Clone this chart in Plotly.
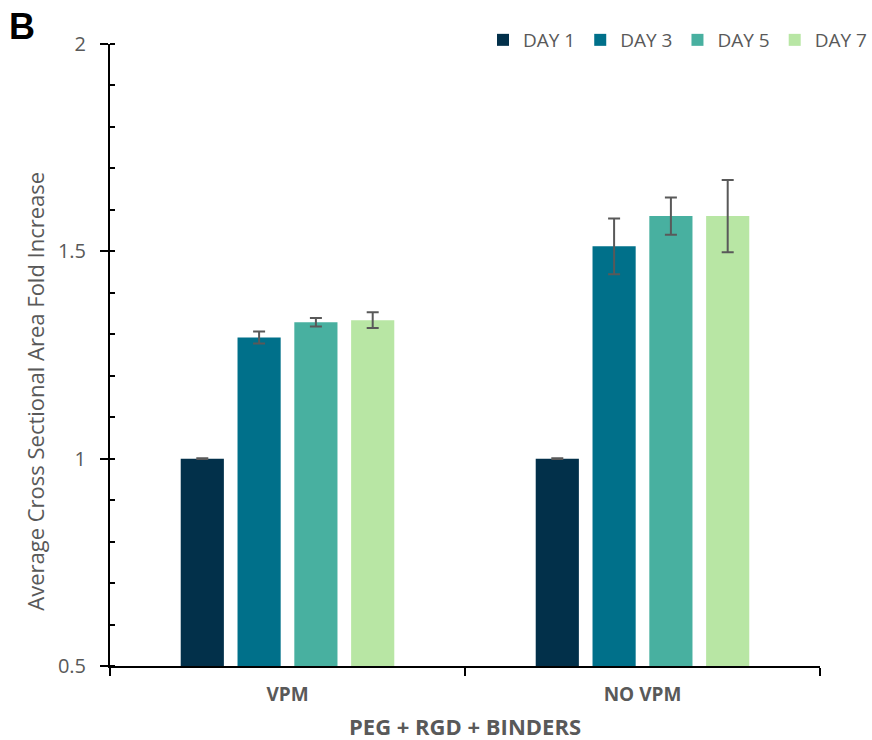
import plotly.graph_objects as go

# Fold increase in average cross-sectional area, by condition and day
groups = ["VPM", "NO VPM"]
days = ["DAY 1", "DAY 3", "DAY 5", "DAY 7"]
day1 = [1.000, 1.000]
day3 = [1.292, 1.512]
day5 = [1.329, 1.585]
day7 = [1.334, 1.585]
err1 = [0.001, 0.001]
err3 = [0.0145, 0.067]
err5 = [0.0105, 0.045]
err7 = [0.019, 0.087]
colors = ["#02304A", "#00708A", "#48B0A0", "#B8E6A4"]

series = [day1, day3, day5, day7]
errors = [err1, err3, err5, err7]

grey = "#595959"
font_family = "'Open Sans', Lato, sans-serif"

fig = go.Figure()
for name, vals, errs, col in zip(days, series, errors, colors):
    fig.add_trace(go.Bar(
        name=name,
        x=groups,
        y=vals,
        marker=dict(color=col, line=dict(width=0)),
        error_y=dict(type="data", array=errs, visible=True,
                     color=grey, thickness=2, width=6),
    ))

fig.update_layout(
    width=872, height=740,
    margin=dict(l=110, r=52, t=44, b=74, autoexpand=False),
    plot_bgcolor="white", paper_bgcolor="white",
    barmode="group", bargap=0.36, bargroupgap=0.24,
    font=dict(family=font_family, color=grey, size=18),
    showlegend=True,
    legend=dict(orientation="h", xref="container", yref="container",
                x=1.0, xanchor="right", y=1 - 40 / 740, yanchor="middle",
                font=dict(size=19, color=grey), traceorder="normal",
                itemwidth=30, bgcolor="rgba(0,0,0,0)"),
)

fig.update_yaxes(
    range=[0.5, 2.0],
    tickvals=[0.5, 1, 1.5, 2],
    ticktext=["0.5", "1", "1.5", "2"],
    showgrid=False, zeroline=False,
    showline=True, linecolor="black", linewidth=2,
    ticks="outside", ticklen=8, tickwidth=2, tickcolor="black",
    tickfont=dict(size=20, color=grey),
    ticklabelstandoff=10,
    minor=dict(dtick=0.1, ticks="inside", ticklen=5, tickwidth=1.5, tickcolor="black"),
)

fig.update_xaxes(
    showgrid=False, showline=True, linecolor="black", linewidth=2,
    ticks="outside", tickson="boundaries", ticklen=8, tickwidth=2, tickcolor="black",
    tickfont=dict(size=19, color=grey, family=font_family, weight="bold"),
    ticklabelstandoff=10,
)

# Panel letter, axis titles
fig.add_annotation(text="<b>B</b>", xref="paper", yref="paper",
                   x=-0.145, y=(666 - 27) / 622, xanchor="left", yanchor="middle",
                   showarrow=False, font=dict(size=36, color="black", family="Liberation Sans, Arial, sans-serif"))
fig.add_annotation(text="Average Cross Sectional Area Fold Increase", xref="paper", yref="paper",
                   x=-0.106, y=(666 - 391) / 622, xanchor="center", yanchor="middle",
                   textangle=-90, showarrow=False, font=dict(size=22, color=grey))
fig.add_annotation(text="<b>PEG + RGD + BINDERS</b>", xref="paper", yref="paper",
                   x=0.5, y=-(726 - 666) / 622, xanchor="center", yanchor="middle",
                   showarrow=False, font=dict(size=22, color=grey))

fig.write_html("out.html")
